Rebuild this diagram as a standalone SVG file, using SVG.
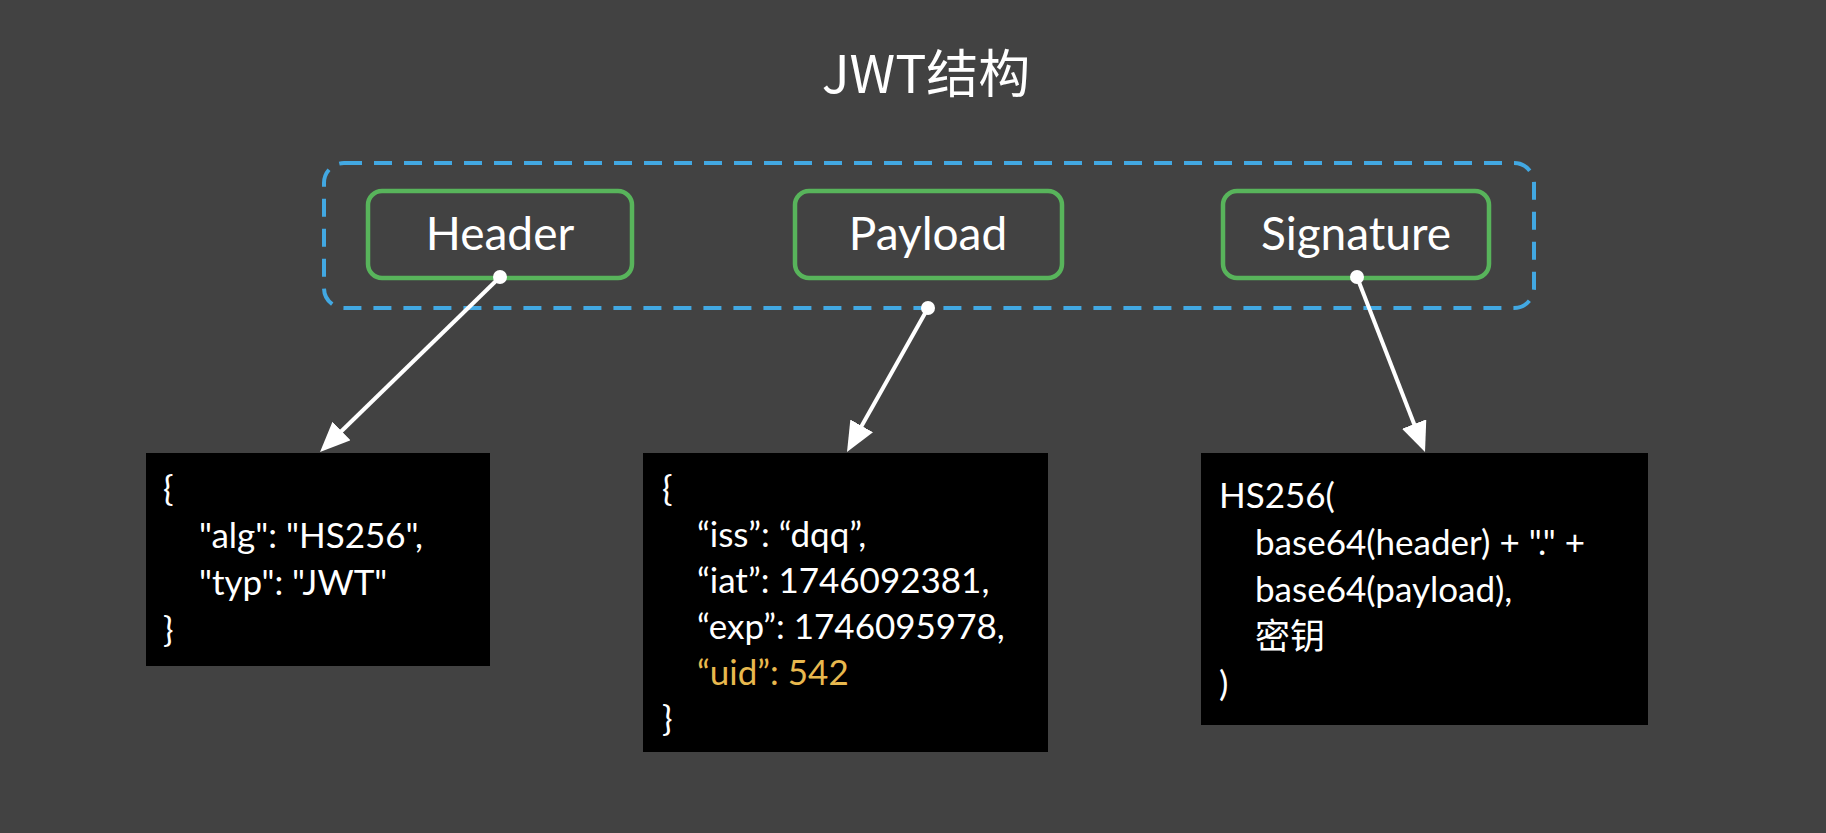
<svg xmlns="http://www.w3.org/2000/svg" width="1826" height="833" viewBox="0 0 1826 833">
<style>
.bg{fill:#424242}
.part{fill:none;stroke:#58B45B;stroke-width:4.5}
.partlbl{font-family:Lato,"Noto Sans","Noto Sans CJK SC",sans-serif;font-size:46px;fill:#ffffff;text-anchor:middle}
.code{fill:#000000}
.ct{font-family:Lato,"Noto Sans","Noto Sans CJK SC",sans-serif;font-size:35px;fill:#ffffff}
.hl{fill:#E8B84E}
.conn{stroke:#ffffff;stroke-width:4;fill:none}
.dot{fill:#ffffff}
</style>
<defs>
<marker id="ah" markerUnits="userSpaceOnUse" markerWidth="32" markerHeight="28" refX="20" refY="13" orient="auto">
<path d="M0,0 L30,13 L0,26 z" fill="#ffffff"/>
</marker>
</defs>
<rect class="bg" x="0" y="0" width="1826" height="833"/>
<text x="926" y="93" font-family="'Noto Sans CJK SC',sans-serif" font-size="52" fill="#ffffff" text-anchor="middle">JWT结构</text>
<g id="container">
<rect x="324" y="163" width="1210" height="145" rx="20" fill="none" stroke="#42A8E2" stroke-width="4" stroke-dasharray="18 12"/>
</g>
<g id="header">
<rect class="part" x="368" y="191" width="264" height="87" rx="14"/>
<text class="partlbl" x="500" y="250">Header</text>
</g>
<g id="payload">
<rect class="part" x="795" y="191" width="267" height="87" rx="14"/>
<text class="partlbl" x="928" y="250">Payload</text>
</g>
<g id="signature">
<rect class="part" x="1223" y="191" width="266" height="87" rx="14"/>
<text class="partlbl" x="1356" y="250">Signature</text>
</g>
<g id="header-json">
<rect class="code" x="146" y="453" width="344" height="213"/>
<text class="ct" x="163" y="501">{</text>
<text class="ct" x="199" y="548">"alg": "HS256",</text>
<text class="ct" x="199" y="595">"typ": "JWT"</text>
<text class="ct" x="163" y="642">}</text>
</g>
<g id="payload-json">
<rect class="code" x="643" y="453" width="405" height="299"/>
<text class="ct" x="662" y="501">{</text>
<text class="ct" x="697" y="547">“iss”: “dqq”,</text>
<text class="ct" x="697" y="593">“iat”: 1746092381,</text>
<text class="ct" x="697" y="639">“exp”: 1746095978,</text>
<text class="ct hl" x="697" y="685">“uid”: 542</text>
<text class="ct" x="662" y="731">}</text>
</g>
<g id="signature-formula">
<rect class="code" x="1201" y="453" width="447" height="272"/>
<text class="ct" x="1219" y="508">HS256(</text>
<text class="ct" x="1255" y="555">base64(header) + "." +</text>
<text class="ct" x="1255" y="602">base64(payload),</text>
<text class="ct" x="1255" y="649">密钥</text>
<text class="ct" x="1219" y="696">)</text>
</g>
<g id="connectors">
<line class="conn" x1="500" y1="277" x2="327.2" y2="445" marker-end="url(#ah)"/>
<line class="conn" x1="928" y1="308" x2="851.9" y2="443.3" marker-end="url(#ah)"/>
<line class="conn" x1="1357" y1="277" x2="1421.4" y2="442.7" marker-end="url(#ah)"/>
<circle class="dot" cx="500" cy="277" r="7"/>
<circle class="dot" cx="928" cy="308" r="7"/>
<circle class="dot" cx="1357" cy="277" r="7"/>
</g>
</svg>
